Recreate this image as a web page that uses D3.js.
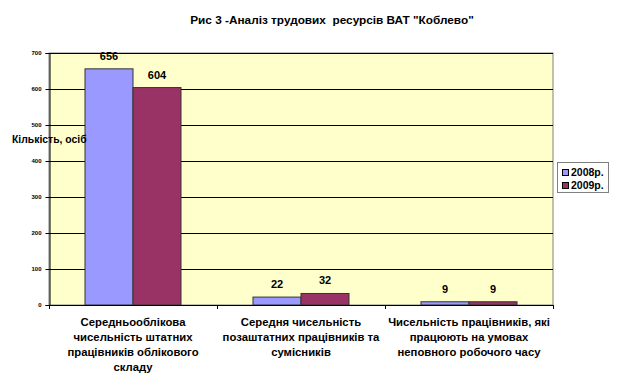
<!DOCTYPE html>
<html><head><meta charset="utf-8">
<script src="https://cdn.jsdelivr.net/npm/d3@7"></script>
<style>body{margin:0;background:#fff;}svg{display:block;font-family:"Liberation Sans",Arial,sans-serif;}</style>
</head><body>
<script>
const categories = [
  ["Середньооблікова","чисельність штатних","працівників облікового","складу"],
  ["Середня чисельність","позаштатних працівників та","сумісників"],
  ["Чисельність працівників, які","працюють на умовах","неповного робочого часу"]
];
const seriesNames = ["2008р.","2009р."];
const values2008 = [656, 22, 9];
const values2009 = [604, 32, 9];
const yTicks = [0,100,200,300,400,500,600,700];
const colors = ["#9999FF","#993366"];

const W=622,H=388;
const svg=d3.select("body").append("svg").attr("width",W).attr("height",H);
const L=49,R=553,T=53,B=305;
const x=d3.scaleBand().domain(d3.range(categories.length)).range([L,R]).paddingInner(0).paddingOuter(0);
const y=d3.scaleLinear().domain([0,700]).range([B,T]);

svg.append("rect").attr("x",L).attr("y",T).attr("width",R-L).attr("height",B-T).attr("fill","#FFFFCC").attr("stroke","#808080").attr("stroke-width",1);
svg.append("g").selectAll("line").data(yTicks.slice(1)).join("line")
  .attr("x1",L).attr("x2",R).attr("y1",d=>Math.round(y(d))+0.5).attr("y2",d=>Math.round(y(d))+0.5)
  .attr("stroke","#000").attr("stroke-width",1);

// bars
const groupW=96, barW=48;
const data=[values2008,values2009];
data.forEach((vals,si)=>{
  svg.append("g").selectAll("rect").data(vals).join("rect")
    .attr("x",(d,i)=>x(i)+x.bandwidth()/2-groupW/2+si*barW)
    .attr("y",d=>y(d)).attr("width",barW).attr("height",d=>B-y(d))
    .attr("fill",colors[si]).attr("stroke","#333").attr("stroke-width",1);
  svg.append("g").selectAll("text").data(vals).join("text")
    .attr("x",(d,i)=>x(i)+x.bandwidth()/2-groupW/2+si*barW+barW/2)
    .attr("y",d=>y(d)-9).attr("text-anchor","middle")
    .attr("font-size",11).attr("font-weight","bold").text(d=>d);
});

// y axis
const yAxis=d3.axisLeft(y).tickValues(yTicks).tickSize(4).tickPadding(4);
const ga=svg.append("g").attr("transform",`translate(${L+0.5},0)`).call(yAxis);
ga.select(".domain").attr("stroke","#000");
ga.selectAll("text").attr("font-size",6).attr("font-weight","bold").attr("font-family","Liberation Sans, Arial");
// x axis
svg.append("line").attr("x1",L).attr("x2",R).attr("y1",B+0.5).attr("y2",B+0.5).attr("stroke","#000");
svg.append("g").selectAll("line").data(d3.range(categories.length+1)).join("line")
  .attr("x1",i=>(i<categories.length?x(i):R)+0.5).attr("x2",i=>(i<categories.length?x(i):R)+0.5)
  .attr("y1",B).attr("y2",B+4).attr("stroke","#000");

// category labels
categories.forEach((lines,i)=>{
  const t=svg.append("text").attr("text-anchor","middle").attr("font-size",11.3).attr("font-weight","bold");
  lines.forEach((ln,j)=>t.append("tspan").attr("x",x(i)+x.bandwidth()/2).attr("y",326+j*15).text(ln));
});

// title
svg.append("text").attr("x",332).attr("y",24).attr("text-anchor","middle").attr("font-size",11.8).attr("font-weight","bold")
  .style("white-space","pre").text("Рис 3 -Аналіз трудових  ресурсів ВАТ \"Коблево\"");
// y label
svg.append("text").attr("x",12).attr("y",143).attr("font-size",10.4).attr("font-weight","bold").text("Кількість, осіб");

// legend
const lg=svg.append("g");
lg.append("rect").attr("x",557.5).attr("y",162.5).attr("width",51).attr("height",30).attr("fill","#fff").attr("stroke","#000").attr("stroke-dasharray","1,1");
seriesNames.forEach((n,i)=>{
  lg.append("rect").attr("x",562.5).attr("y",169.5+i*13).attr("width",6).attr("height",6).attr("fill",colors[i]).attr("stroke","#000");
  lg.append("text").attr("x",571).attr("y",176+i*13).attr("font-size",10.5).attr("font-weight","bold").text(n);
});
</script>
</body></html>
